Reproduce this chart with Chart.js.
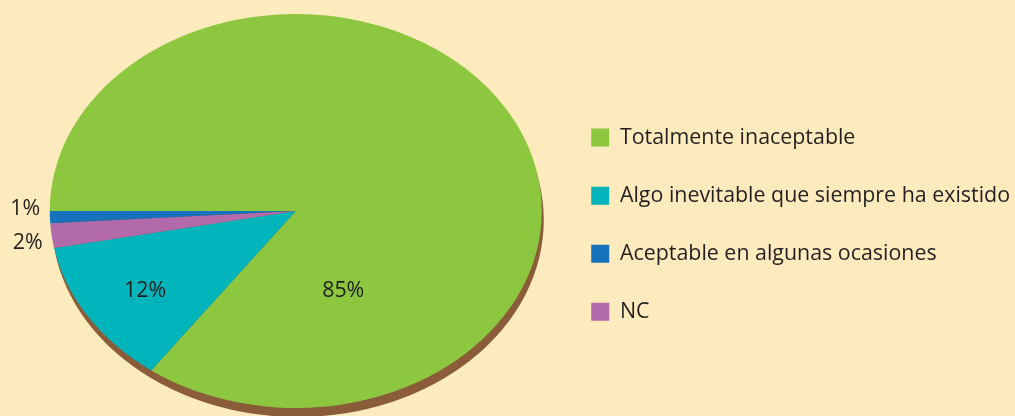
<!DOCTYPE html>
<html>
<head>
<meta charset="utf-8">
<script src="https://cdn.jsdelivr.net/npm/chart.js@4.4.1/dist/chart.umd.min.js"></script>
<style>
  html, body { margin: 0; padding: 0; background: #FEEBBD; }
  #wrap { width: 1015px; height: 416px; }
</style>
</head>
<body>
<div id="wrap"><canvas id="pieChart" width="1015" height="416"></canvas></div>
<script>
// slices in the order they are drawn, clockwise from 9 o'clock
const categories = ['Totalmente inaceptable', 'Algo inevitable que siempre ha existido', 'NC', 'Aceptable en algunas ocasiones'];
const shares = [85, 12, 2, 1];
const sliceColors = ['#8DC63F', '#00B4BC', '#B36AAA', '#1672BA'];
// the legend lists them in a different order
const legendOrder = ['Totalmente inaceptable', 'Algo inevitable que siempre ha existido', 'Aceptable en algunas ocasiones', 'NC'];
// where each percentage sits: angle (deg, clockwise from 3 o'clock), distance as share of radius
const labelSpots = [[64, 0.44], [147, 0.73], [172, 1.10], [181, 1.10]];

const textColor = '#231F20';
const fontFamily = '"Open Sans", sans-serif';
const fontSize = 21.4;
const stretchX = 246 / 197;   // the pie is drawn as a wide oval
const depth = { dx: 2, dy: 9 };

const ovalPie = {
    id: 'ovalPie',
    beforeDatasetsDraw(chart) {
        const arc = chart.getDatasetMeta(0).data[0];
        const { x, y, outerRadius } = arc;
        const ctx = chart.ctx;
        ctx.save();
        ctx.translate(x, y);
        ctx.scale(stretchX, 1);
        ctx.translate(-x, -y);
        // brown rim underneath
        ctx.fillStyle = '#8A5C3A';
        ctx.beginPath();
        ctx.arc(x + depth.dx / stretchX, y + depth.dy, outerRadius, 0, Math.PI * 2);
        ctx.fill();
    },
    afterDatasetsDraw(chart) {
        const ctx = chart.ctx;
        ctx.restore();
        const arc = chart.getDatasetMeta(0).data[0];
        const { x, y, outerRadius } = arc;
        ctx.save();
        ctx.fillStyle = textColor;
        ctx.font = fontSize + 'px ' + fontFamily;
        ctx.textAlign = 'center';
        ctx.textBaseline = 'middle';
        shares.forEach((v, i) => {
            const a = labelSpots[i][0] * Math.PI / 180;
            const f = labelSpots[i][1];
            const lx = x + Math.cos(a) * outerRadius * stretchX * f;
            const ly = y + Math.sin(a) * outerRadius * f + 2;
            ctx.fillText(v + '%', lx, ly);
        });
        ctx.restore();
    }
};

const ctx = document.getElementById('pieChart').getContext('2d');
const pieChart = new Chart(ctx, {
    type: 'pie',
    data: {
        labels: categories,
        datasets: [{
            data: shares,
            backgroundColor: sliceColors,
            borderWidth: 0,
            clip: false
        }]
    },
    options: {
        responsive: false,
        animation: false,
        devicePixelRatio: 1,
        rotation: -90,
        layout: { padding: { top: 14, bottom: 8, left: 37, right: -5 } },
        plugins: {
            tooltip: { enabled: false },
            legend: {
                position: 'right',
                align: 'center',
                title: { display: true, text: '', padding: { top: 13, bottom: 0 }, font: { size: 12 } },
                labels: {
                    boxWidth: 18,
                    boxHeight: 18,
                    padding: 36.7,
                    color: textColor,
                    font: { family: fontFamily, size: fontSize },
                    sort: (a, b) => legendOrder.indexOf(a.text) - legendOrder.indexOf(b.text)
                }
            }
        }
    },
    plugins: [ovalPie]
});
</script>
</body>
</html>
